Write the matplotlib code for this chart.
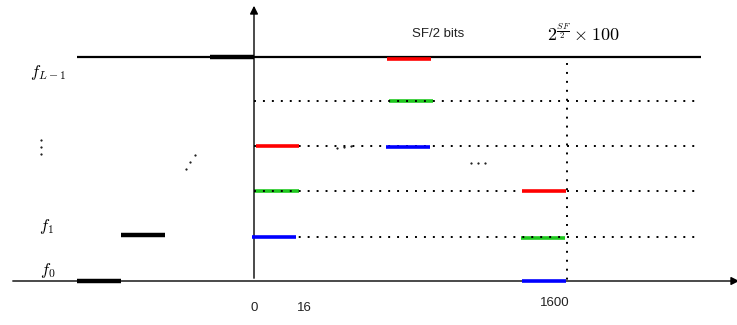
import matplotlib as mpl
mpl.use("Agg")
import matplotlib.pyplot as plt

mpl.rcParams["mathtext.fontset"] = "cm"
mpl.rcParams["font.family"] = ["Liberation Sans", "DejaVu Sans"]

# ---------------------------------------------------------------------------
# Data (diagram coordinates, origin top-left, y downward)
# ---------------------------------------------------------------------------
# frequency levels
level_y = [281, 237, 191, 146, 101, 57]

# black chirp pieces (x0, x1, y)
black_x0 = [77, 121, 210]
black_x1 = [121, 165, 254]
black_y = [281, 235, 57]

# coloured symbol pieces
col_x0 = [256, 254, 252, 387, 389, 386, 522, 521, 522]
col_x1 = [299, 299, 296, 431, 433, 430, 566, 565, 566]
col_y = [146, 191, 237, 59, 101, 147, 191, 238, 281]
col_c = ["red", "green", "blue", "red", "green", "blue", "red", "green", "blue"]

dot_rows = [101, 146, 191, 237]
dot_x0, dot_x1 = 254, 695
vdot_x = 567

# ---------------------------------------------------------------------------
fig = plt.figure(figsize=(7.37, 3.25), dpi=100)
ax = fig.add_axes([0, 0, 1, 1])
ax.set_xlim(0, 737)
ax.set_ylim(325, 0)
ax.axis("off")

COLORS = {"red": "#ff0000", "green": "#1ec81e", "blue": "#0000ff"}
DOTS = (0, (1, 3.6))

# axes with arrows
ax.annotate("", xy=(254, 3), xytext=(254, 281), annotation_clip=False,
            arrowprops=dict(arrowstyle="-|>", lw=1, color="k", mutation_scale=12))
ax.annotate("", xy=(742, 281), xytext=(10, 281), annotation_clip=False,
            arrowprops=dict(arrowstyle="-|>", lw=1, color="k", mutation_scale=12))

# top boundary line
ax.plot([77, 701], [level_y[-1], level_y[-1]], color="k", lw=1.6, solid_capstyle="butt")

# dotted guide lines
for y in dot_rows:
    ax.plot([dot_x0, dot_x1], [y, y], color="k", lw=1.4, linestyle=DOTS, zorder=3)
ax.plot([vdot_x, vdot_x], [63, 281], color="k", lw=1.4, linestyle=DOTS, zorder=3)

# black pieces
for x0, x1, y in zip(black_x0, black_x1, black_y):
    ax.plot([x0, x1], [y, y], color="k", lw=3.2, solid_capstyle="butt")

# coloured pieces (green sits under the dotted rows)
for x0, x1, y, c in zip(col_x0, col_x1, col_y, col_c):
    ax.plot([x0, x1], [y, y], color=COLORS[c], lw=2.6, solid_capstyle="butt",
            zorder=2 if c == "green" else 4)

# small ellipsis dots
ax.plot([186, 190.5, 195], [169, 162, 154.5], "k.", ms=1.1)
ax.plot([41, 41, 41], [140, 147, 154], "k.", ms=1.1)
ax.plot([471, 478, 485], [163, 163, 163], "k.", ms=1.1)
ax.plot([337, 344, 351], [148, 147, 146], "k.", ms=1.1)

# labels
ax.text(48, 72, r"$f_{L-1}$", fontsize=12, ha="center", va="center")
ax.text(46, 226, r"$f_1$", fontsize=12, ha="center", va="center")
ax.text(48, 270, r"$f_0$", fontsize=12, ha="center", va="center")

ax.text(254, 308, "0", fontsize=9.5, ha="center", va="center", color="#222222")
ax.text(304, 308, "16", fontsize=9.5, ha="center", va="center", color="#222222")
ax.text(555, 303, "1600", fontsize=9.5, ha="center", va="center", color="#222222")
ax.text(438, 34, "SF/2 bits", fontsize=9.5, ha="center", va="center", color="#222222")
ax.text(583, 34, r"$2^{\frac{SF}{2}}\times 100$", fontsize=13, ha="center", va="center")

fig.savefig("out.png", dpi=100)
plt.close(fig)
